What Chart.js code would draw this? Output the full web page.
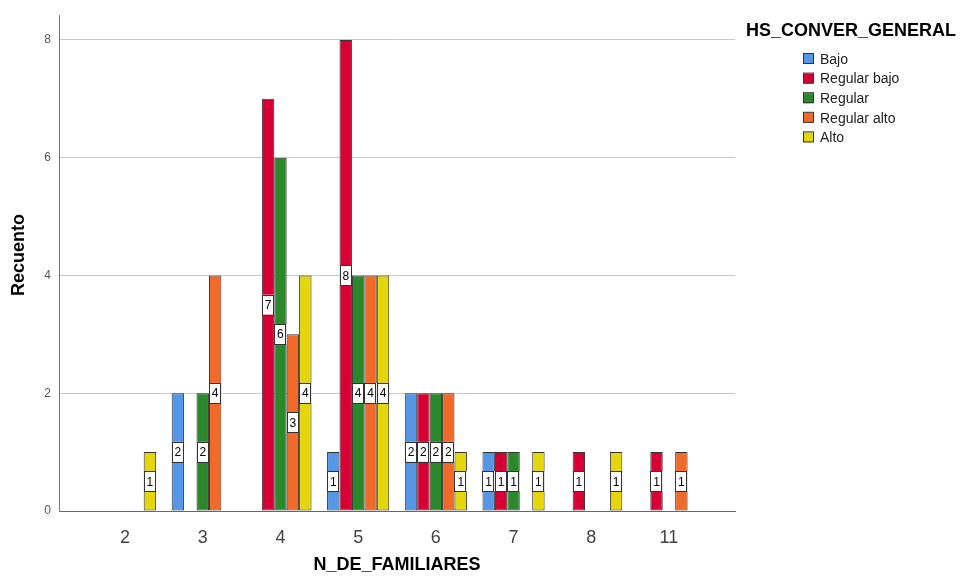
<!DOCTYPE html>
<html>
<head>
<meta charset="utf-8">
<script src="https://cdn.jsdelivr.net/npm/chart.js@4.4.1/dist/chart.umd.min.js"></script>
<style>
  html, body { margin: 0; padding: 0; background: #fff; }
  #wrap { width: 964px; height: 576px; }
</style>
</head>
<body>
<div id="wrap"><canvas id="recuentoChart"></canvas></div>
<script>
// N_DE_FAMILIARES x HS_CONVER_GENERAL (recuento)
const categories = ['2', '3', '4', '5', '6', '7', '8', '11'];
const seriesNames = ['Bajo', 'Regular bajo', 'Regular', 'Regular alto', 'Alto'];
const bajo        = [0, 2, 0, 1, 2, 1, 0, 0];
const regularBajo = [0, 0, 7, 8, 2, 1, 1, 1];
const regular     = [0, 2, 6, 4, 2, 1, 0, 0];
const regularAlto = [0, 4, 3, 4, 2, 0, 0, 1];
const alto        = [1, 0, 4, 4, 1, 1, 1, 0];
const yTicks = [0, 2, 4, 6, 8];

const colors = ['#5596e6', '#d70035', '#2b882b', '#f26a2a', '#e4d60a'];
const FONT = '"Liberation Sans", Arial, sans-serif';
Chart.defaults.font.family = FONT;

// caja blanca con el valor en medio de cada barra
const valueBoxes = {
  id: 'valueBoxes',
  afterDatasetsDraw(chart) {
    const ctx = chart.ctx;
    ctx.save();
    ctx.font = '12px ' + FONT;
    ctx.textAlign = 'center';
    ctx.textBaseline = 'middle';
    chart.data.datasets.forEach((ds, di) => {
      chart.getDatasetMeta(di).data.forEach((bar, i) => {
        const v = ds.data[i];
        if (!v) return;
        const p = bar.getProps(['x', 'y', 'base', 'width'], true);
        const cy = (p.y + p.base) / 2;
        const w = p.width, h = 20;
        ctx.fillStyle = '#fff';
        ctx.fillRect(p.x - w / 2, cy - h / 2, w, h);
        ctx.strokeStyle = '#333';
        ctx.lineWidth = 1;
        ctx.strokeRect(Math.round(p.x - w / 2) + 0.5, Math.round(cy - h / 2) + 0.5, Math.round(w) - 1, h);
        ctx.fillStyle = '#000';
        ctx.fillText(String(v), p.x, cy + 1);
      });
    });
    ctx.restore();
  }
};

// leyenda y titulo del eje Y al estilo SPSS
const spssLegend = {
  id: 'spssLegend',
  afterDraw(chart) {
    const ctx = chart.ctx;
    ctx.save();
    ctx.fillStyle = '#000';
    ctx.font = 'bold 18px ' + FONT;
    ctx.textBaseline = 'middle';
    ctx.textAlign = 'left';
    ctx.fillText('HS_CONVER_GENERAL', 746, 31);

    ctx.save();
    ctx.translate(19, 255);
    ctx.rotate(-Math.PI / 2);
    ctx.textAlign = 'center';
    ctx.fillText('Recuento', 0, 0);
    ctx.restore();

    ctx.font = '14px ' + FONT;
    chart.data.datasets.forEach((ds, i) => {
      const cy = 59 + i * 19.6;
      ctx.fillStyle = ds.backgroundColor;
      ctx.fillRect(803, cy - 5, 10, 10);
      ctx.strokeStyle = '#333';
      ctx.lineWidth = 1;
      ctx.strokeRect(803.5, cy - 5.5, 10, 10);
      ctx.fillStyle = '#222';
      ctx.fillText(ds.label, 820, cy + 1);
    });
    ctx.restore();
  }
};

const ctx = document.getElementById('recuentoChart').getContext('2d');
new Chart(ctx, {
  type: 'bar',
  data: {
    labels: categories,
    datasets: [bajo, regularBajo, regular, regularAlto, alto].map((d, i) => ({
      label: seriesNames[i],
      data: d,
      backgroundColor: colors[i],
      borderColor: '#333',
      borderWidth: 1,
      borderSkipped: false,
      categoryPercentage: 0.8,
      barPercentage: 1
    }))
  },
  options: {
    responsive: true,
    maintainAspectRatio: false,
    animation: false,
    layout: { padding: { top: 12, right: 229, left: 0, bottom: 0 } },
    plugins: {
      legend: { display: false },
      tooltip: { enabled: false }
    },
    scales: {
      x: {
        offset: true,
        grid: { display: false },
        border: { display: true, color: '#666', width: 1 },
        ticks: { color: '#444', font: { size: 18 }, padding: 8 },
        title: {
          display: true,
          text: 'N_DE_FAMILIARES',
          color: '#000',
          font: { size: 18, weight: 'bold' },
          padding: { top: 0, bottom: 0 }
        },
        // un poco de aire extra a los lados, como en SPSS
        afterBuildTicks(scale) {
          scale._startValue -= 0.35;
          scale._valueRange += 0.7;
        },
        afterFit(scale) { scale.height = 65; }
      },
      y: {
        min: 0,
        max: 8.42,
        grid: { color: '#c8c8c8', lineWidth: 1, drawTicks: false },
        border: { display: true, color: '#777', width: 1 },
        ticks: {
          stepSize: 2,
          includeBounds: false,
          color: '#555',
          font: { size: 12 },
          padding: 8,
          callback: v => yTicks.includes(v) ? String(v) : ''
        },
        title: { display: false },
        afterFit(scale) { scale.width = 59; }
      }
    }
  },
  plugins: [valueBoxes, spssLegend]
});
</script>
</body>
</html>
